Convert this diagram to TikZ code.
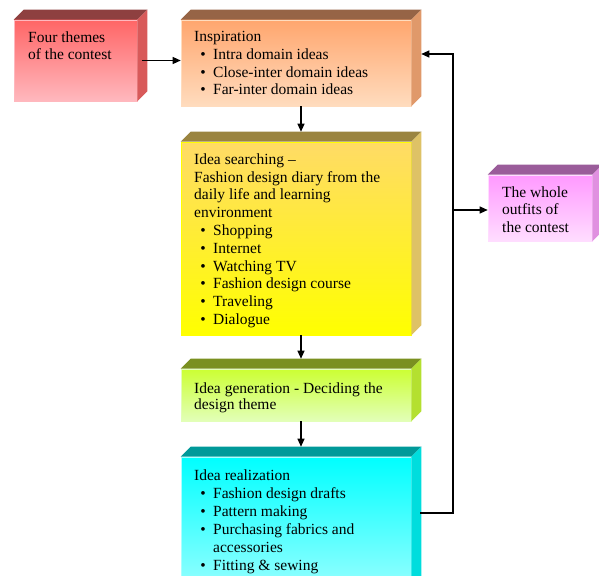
\documentclass[tikz,border=0pt]{standalone}
\usepackage{fontspec}
\setmainfont{Liberation Serif}
\usetikzlibrary{arrows.meta}

\definecolor{redA}{HTML}{FF6666}
\definecolor{redB}{HTML}{FFB8BE}
\definecolor{redT}{HTML}{8E4040}
\definecolor{redS}{HTML}{D85A5A}
\definecolor{oraA}{HTML}{FFA66E}
\definecolor{oraB}{HTML}{FFDCBE}
\definecolor{oraT}{HTML}{966446}
\definecolor{oraS}{HTML}{E0996A}
\definecolor{yelA}{HTML}{FFDB66}
\definecolor{yelB}{HTML}{FFFF00}
\definecolor{yelT}{HTML}{9A8440}
\definecolor{yelS}{HTML}{DEC266}
\definecolor{grnA}{HTML}{CCFF33}
\definecolor{grnB}{HTML}{E2FFB8}
\definecolor{grnT}{HTML}{7A9020}
\definecolor{grnS}{HTML}{B4E030}
\definecolor{cyaA}{HTML}{00FFFF}
\definecolor{cyaB}{HTML}{AAFFFF}
\definecolor{cyaT}{HTML}{009999}
\definecolor{cyaS}{HTML}{00DDDD}
\definecolor{magA}{HTML}{FF99FF}
\definecolor{magB}{HTML}{FFDDFF}
\definecolor{magT}{HTML}{9A5C9A}
\definecolor{magS}{HTML}{E090E0}

\newcommand{\itm}[1]{\makebox[19pt][r]{\textbullet\hspace{7.5pt}}#1}

\begin{document}
\begin{tikzpicture}[x=1pt,y=-1pt,
  face/.style 2 args={rectangle,inner sep=0pt,top color=#1,bottom color=#2,draw=#2,line width=0.6pt},
  txt/.style={anchor=north west,align=left,inner sep=0pt,font=\fontsize{15.5}{17.6}\selectfont},
  arr/.style={-{Triangle[length=8pt,width=7pt]},line width=1.2pt}]
\useasboundingbox (0,0) rectangle (599,575);

% front faces
\node[face={redA}{redB},minimum width=123pt,minimum height=81pt] (four) at (75.5,60.5) {};
\node[face={oraA}{oraB},minimum width=230pt,minimum height=86pt] (insp) at (296,63) {};
\node[face={yelA}{yelB},minimum width=230pt,minimum height=193pt] (search) at (296,238.5) {};
\node[face={grnA}{grnB},minimum width=230pt,minimum height=52pt] (gen) at (296,395) {};
\node[face={cyaA}{cyaB},minimum width=230pt,minimum height=150pt] (real) at (296,532) {};
\node[face={magA}{magB},minimum width=104pt,minimum height=66pt] (whole) at (540,208) {};

% top and side of each box
\foreach \b/\tc/\sc in {four/redT/redS,insp/oraT/oraS,search/yelT/yelS,gen/grnT/grnS,real/cyaT/cyaS,whole/magT/magS}{
  \fill[\tc] (\b.north west) -- ++(10,-10) -- ([shift={(10,-10)}]\b.north east) -- (\b.north east) -- cycle;
  \fill[\sc] (\b.north east) -- ++(10,-10) -- ([shift={(10,-10)}]\b.south east) -- (\b.south east) -- cycle;
}

% texts
\node[txt] (fourT) at (28,31.4) {Four themes\\of the contest};
\node[txt] (inspT) at (194,31.4) {Inspiration\\\itm{Intra domain ideas}\\\itm{Close-inter domain ideas}\\\itm{Far-inter domain ideas}};
\node[txt,font=\fontsize{15.5}{17.8}\selectfont] (searchT) at (194,153.4) {Idea searching \textendash\\Fashion design diary from the\\daily life and learning\\environment\\\itm{Shopping}\\\itm{Internet}\\\itm{Watching TV}\\\itm{Fashion design course}\\\itm{Traveling}\\\itm{Dialogue}};
\node[txt,font=\fontsize{15.5}{16.5}\selectfont] (genT) at (194,382.4) {Idea generation - Deciding the\\design theme};
\node[txt,font=\fontsize{15.5}{18}\selectfont] (realT) at (194,469.4) {Idea realization\\\itm{Fashion design drafts}\\\itm{Pattern making}\\\itm{Purchasing fabrics and}\\\hspace{19pt}accessories\\\itm{Fitting \& sewing}};
\node[txt] (wholeT) at (502,186.4) {The whole\\outfits of\\the contest};

% connectors
\coordinate (back) at (453,513);
\coordinate (top) at (453,54);
\coordinate (fork) at (453,210);
\draw[arr] ([xshift=5pt]four.east) -- (four.east -| insp.west);
\draw[arr] ([xshift=5pt]insp.south) -- ([shift={(5,-10)}]search.north);
\draw[arr] ([xshift=5pt]search.south) -- ([shift={(5,-10)}]gen.north);
\draw[arr] ([xshift=5pt]gen.south) -- ([shift={(5,-10)}]real.north);
\draw[arr] ([xshift=9pt]real.east |- back) -- (back) -- (top) -- ([xshift=10pt]insp.east |- top);
\draw[arr] (fork) -- (whole.west |- fork);
\end{tikzpicture}
\end{document}
